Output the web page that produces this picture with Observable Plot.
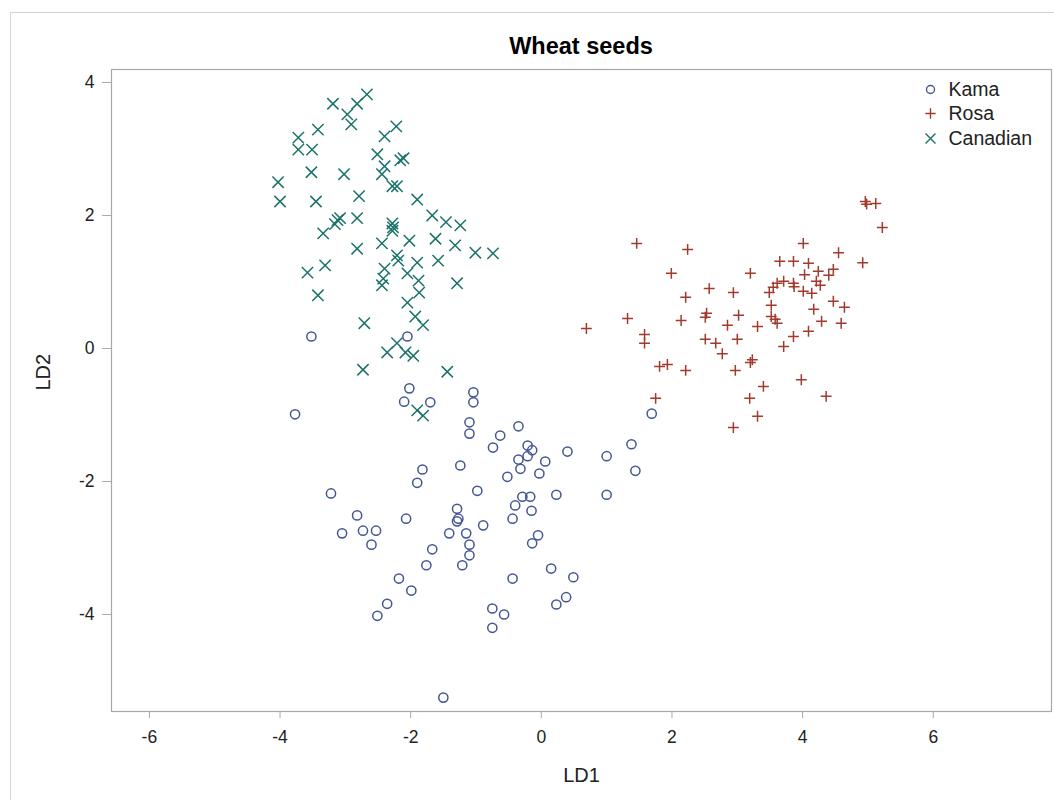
<!DOCTYPE html>
<html>
<head>
<meta charset="utf-8">
<script src="https://cdn.jsdelivr.net/npm/d3@7"></script>
<script src="https://cdn.jsdelivr.net/npm/@observablehq/plot@0.6"></script>
<style>
  html, body { margin: 0; padding: 0; background: #fff; }
  #wrap { position: relative; width: 1054px; height: 800px; overflow: hidden; font-family: "Liberation Sans", Arial, sans-serif; }
  #border { position: absolute; left: 10px; top: 12px; width: 1100px; height: 900px; border: 1px solid #d6d6d6; box-sizing: border-box; }
  #title { position: relative; height: 60px; box-sizing: border-box; padding-top: 33px; line-height: 26px; text-align: center; font-weight: bold; font-size: 23.5px; color: #000; padding-left: 108px; }
  #chart { position: relative; }
</style>
</head>
<body>
<div id="wrap">
  <div id="border"></div>
  <div id="title">Wheat seeds</div>
  <div id="chart"></div>
</div>
<script>
// Group names
const groups = ["Kama", "Rosa", "Canadian"];
const colors = ["#445694", "#A23A2E", "#1b7369"];
const xTicks = [-6, -4, -2, 0, 2, 4, 6];
const yTicks = [-4, -2, 0, 2, 4];

// Kama [LD1, LD2]
const kama = [
  [-3.52,0.18],[-2.05,0.18],[-3.77,-0.99],[-2.02,-0.60],[-2.10,-0.80],[-1.70,-0.81],[-1.04,-0.66],[-1.04,-0.81],
  [-1.10,-1.11],[-1.10,-1.28],[-0.63,-1.31],[-0.74,-1.49],[-1.82,-1.82],[-1.90,-2.02],[-1.24,-1.76],[-0.98,-2.14],
  [-3.22,-2.18],[-2.82,-2.51],[-2.07,-2.56],[-1.29,-2.41],[-1.27,-2.56],[-1.29,-2.60],[-0.89,-2.66],[-3.05,-2.78],
  [-2.73,-2.74],[-2.53,-2.74],[-2.60,-2.95],[-1.41,-2.78],[-1.15,-2.78],[-1.10,-2.95],[-1.67,-3.02],[-1.10,-3.11],
  [-1.21,-3.26],[-1.76,-3.26],[-2.18,-3.46],[-1.99,-3.64],[-2.36,-3.84],[-2.51,-4.02],[-0.75,-3.91],[-0.75,-4.20],
  [-1.50,-5.25],[1.69,-0.98],[-0.35,-1.17],[-0.21,-1.46],[-0.14,-1.53],[0.40,-1.55],[-0.35,-1.67],[-0.21,-1.62],
  [0.06,-1.70],[-0.32,-1.81],[-0.52,-1.93],[-0.03,-1.88],[1.00,-1.62],[1.38,-1.44],[1.44,-1.84],[-0.29,-2.23],
  [-0.17,-2.23],[0.23,-2.20],[1.00,-2.20],[-0.40,-2.36],[-0.15,-2.44],[-0.44,-2.56],[-0.05,-2.81],[-0.14,-2.93],
  [0.15,-3.31],[0.49,-3.44],[-0.44,-3.46],[0.38,-3.74],[0.23,-3.85],[-0.57,-4.00]
];

// Rosa [LD1, LD2]
const rosa = [
  [1.46,1.58],[2.24,1.49],[1.99,1.13],[3.20,1.13],[2.57,0.90],[2.94,0.84],[3.49,0.84],[3.55,0.92],
  [3.61,0.98],[2.21,0.77],[3.52,0.65],[3.52,0.48],[3.58,0.44],[3.61,0.38],[1.32,0.45],[0.69,0.30],
  [2.14,0.42],[2.53,0.53],[2.51,0.47],[3.02,0.50],[2.85,0.35],[3.31,0.33],[1.58,0.21],[1.58,0.08],
  [2.51,0.14],[2.67,0.08],[3.00,0.14],[2.77,-0.08],[1.81,-0.27],[1.93,-0.24],[2.21,-0.33],[2.97,-0.33],
  [3.20,-0.21],[3.23,-0.17],[3.40,-0.57],[3.19,-0.75],[3.31,-1.02],[2.94,-1.19],[1.75,-0.75],[3.71,0.03],
  [4.96,2.21],[5.12,2.18],[4.98,2.17],[5.22,1.82],[4.01,1.58],[4.55,1.44],[4.92,1.29],[3.65,1.31],
  [3.86,1.31],[4.09,1.28],[4.03,1.11],[4.24,1.16],[4.47,1.19],[4.40,1.10],[3.71,1.01],[3.86,0.98],
  [3.87,0.93],[4.21,1.01],[4.27,0.95],[4.01,0.86],[4.14,0.83],[4.47,0.71],[4.64,0.62],[4.17,0.59],
  [4.29,0.41],[4.59,0.38],[4.09,0.26],[3.86,0.18],[3.98,-0.47],[4.36,-0.72]
];

// Canadian [LD1, LD2]
const canadian = [
  [-3.19,3.68],[-2.82,3.68],[-2.67,3.82],[-2.97,3.52],[-2.91,3.37],[-3.42,3.29],[-3.72,3.17],[-3.72,2.99],
  [-3.51,2.99],[-2.22,3.34],[-2.40,3.19],[-2.51,2.92],[-2.40,2.74],[-2.44,2.62],[-2.16,2.83],[-2.11,2.86],
  [-3.52,2.65],[-3.02,2.62],[-4.03,2.50],[-4.00,2.21],[-3.45,2.21],[-2.79,2.29],[-2.28,2.44],[-2.21,2.44],
  [-1.90,2.24],[-1.67,2.00],[-1.46,1.90],[-1.24,1.85],[-2.82,1.96],[-3.12,1.93],[-3.16,1.87],[-3.08,1.96],
  [-2.28,1.88],[-2.28,1.77],[-2.27,1.82],[-3.34,1.73],[-2.82,1.50],[-2.44,1.58],[-2.02,1.62],[-1.62,1.65],
  [-1.32,1.55],[-1.01,1.44],[-0.74,1.43],[-2.21,1.40],[-2.19,1.32],[-1.90,1.29],[-1.58,1.32],[-3.31,1.25],
  [-3.58,1.14],[-2.40,1.20],[-2.42,1.05],[-2.44,0.95],[-2.05,1.13],[-1.88,1.02],[-1.87,0.84],[-1.29,0.98],
  [-3.42,0.80],[-2.05,0.69],[-1.93,0.48],[-1.81,0.35],[-2.71,0.38],[-2.36,-0.06],[-2.21,0.08],[-2.08,-0.06],
  [-1.96,-0.11],[-2.73,-0.32],[-1.44,-0.35],[-1.90,-0.93],[-1.81,-1.01]
];

const toRows = (arr, g) => arr.map(([ld1, ld2]) => ({LD1: ld1, LD2: ld2, group: g}));
const kamaRows = toRows(kama, groups[0]);
const rosaRows = toRows(rosa, groups[1]);
const canRows = toRows(canadian, groups[2]);

const symbols = ["circle", "plus", "times"];
const radii = [4.6, 3.6, 5.2];
const legendR = [4.0, 3.4, 4.6];
const legendDy = [20, 44, 69];

const tickColor = "#a8a8a8";
const textColor = "#222";

const legendMarks = groups.flatMap((g, i) => [
  Plot.dot([g], {frameAnchor: "top-right", dx: -121, dy: legendDy[i], symbol: () => symbols[i], r: legendR[i], stroke: colors[i], strokeWidth: 1.4, fill: "none"}),
  Plot.text([g], {frameAnchor: "top-right", dx: -103, dy: legendDy[i], text: d => d, textAnchor: "start", lineAnchor: "middle", fontSize: 19.5, fill: textColor})
]);

const chart = Plot.plot({
  width: 1054,
  height: 740,
  marginTop: 9,
  marginBottom: 89,
  marginLeft: 111,
  marginRight: 3,
  style: {fontFamily: "'Liberation Sans', Arial, sans-serif", background: "transparent", overflow: "visible"},
  x: {domain: [-6.58, 7.81], label: null},
  y: {domain: [-5.459, 4.195], label: null},
  marks: [
    Plot.axisX({ticks: xTicks, tickSize: 7, tickPadding: 12, fontSize: 17.5, stroke: tickColor, fill: textColor, label: null, tickFormat: d => String(d)}),
    Plot.axisY({ticks: yTicks, tickSize: 9, tickPadding: 8, fontSize: 17.5, stroke: tickColor, fill: textColor, label: null, tickFormat: d => String(d)}),
    Plot.dot(kamaRows, {x: "LD1", y: "LD2", symbol: () => symbols[0], r: radii[0], stroke: colors[0], strokeWidth: 1.5, fill: "none"}),
    Plot.dot(rosaRows, {x: "LD1", y: "LD2", symbol: () => symbols[1], r: radii[1], stroke: colors[1], strokeWidth: 1.5, fill: "none"}),
    Plot.dot(canRows, {x: "LD1", y: "LD2", symbol: () => symbols[2], r: radii[2], stroke: colors[2], strokeWidth: 1.5, fill: "none"}),
    ...legendMarks,
    Plot.text(["LD1"], {frameAnchor: "bottom", dy: 64, text: d => d, lineAnchor: "middle", fontSize: 20, fill: textColor}),
    Plot.text(["LD2"], {frameAnchor: "left", dx: -68, text: d => d, rotate: -90, lineAnchor: "middle", fontSize: 20, fill: textColor}),
    Plot.frame({stroke: tickColor, strokeWidth: 1.2})
  ]
});
document.getElementById("chart").appendChild(chart);
</script>
</body>
</html>
